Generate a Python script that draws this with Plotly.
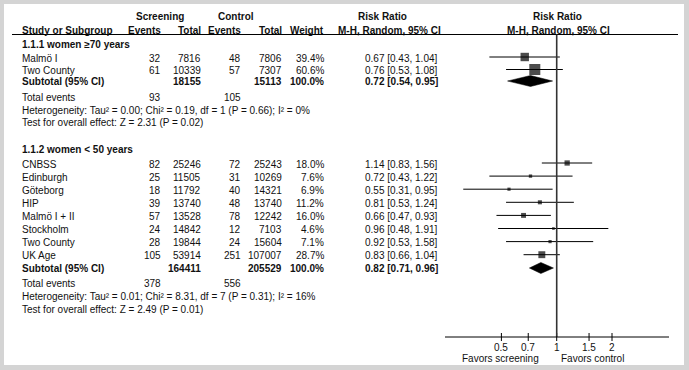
import math
import plotly.graph_objects as go

# ---------------- data ----------------
g1_title = "1.1.1 women \u226570 years"
g1_names = ["Malmö I", "Two County"]
g1_scr_ev = [32, 61]
g1_scr_tot = [7816, 10339]
g1_ctl_ev = [48, 57]
g1_ctl_tot = [7806, 7307]
g1_weight = [39.4, 60.6]
g1_rr = [0.67, 0.76]
g1_lo = [0.43, 0.53]
g1_hi = [1.04, 1.08]
g1_sub = {"scr_tot": 18155, "ctl_tot": 15113, "rr": 0.72, "lo": 0.54, "hi": 0.95,
          "scr_ev": 93, "ctl_ev": 105}
g1_het = "Heterogeneity: Tau\u00b2 = 0.00; Chi\u00b2 = 0.19, df = 1 (P = 0.66); I\u00b2 = 0%"
g1_test = "Test for overall effect: Z = 2.31 (P = 0.02)"

g2_title = "1.1.2 women < 50 years"
g2_names = ["CNBSS", "Edinburgh", "Göteborg", "HIP", "Malmö I + II", "Stockholm", "Two County", "UK Age"]
g2_scr_ev = [82, 25, 18, 39, 57, 24, 28, 105]
g2_scr_tot = [25246, 11505, 11792, 13740, 13528, 14842, 19844, 53914]
g2_ctl_ev = [72, 31, 40, 48, 78, 12, 24, 251]
g2_ctl_tot = [25243, 10269, 14321, 13740, 12242, 7103, 15604, 107007]
g2_weight = [18.0, 7.6, 6.9, 11.2, 16.0, 4.6, 7.1, 28.7]
g2_rr = [1.14, 0.72, 0.55, 0.81, 0.66, 0.96, 0.92, 0.83]
g2_lo = [0.83, 0.43, 0.31, 0.53, 0.47, 0.48, 0.53, 0.66]
g2_hi = [1.56, 1.22, 0.95, 1.24, 0.93, 1.91, 1.58, 1.04]
g2_sub = {"scr_tot": 164411, "ctl_tot": 205529, "rr": 0.82, "lo": 0.71, "hi": 0.96,
          "scr_ev": 378, "ctl_ev": 556}
g2_het = "Heterogeneity: Tau\u00b2 = 0.01; Chi\u00b2 = 8.31, df = 7 (P = 0.31); I\u00b2 = 16%"
g2_test = "Test for overall effect: Z = 2.49 (P = 0.01)"

tick_vals = [0.5, 0.7, 1, 1.5, 2]
tick_text = ["0.5", "0.7", "1", "1.5", "2"]
favors_left = "Favors screening"
favors_right = "Favors control"

# ---------------- layout constants ----------------
W, H = 689, 370
FONT = "Liberation Sans, Arial, sans-serif"
FS = 10
TXT = "#111111"

X_NAME = 21
X_SEV, X_STOT, X_CEV, X_CTOT, X_W = 162, 202, 242, 283, 325
X_RR = 401
AX_L, AX_R = 445, 669
PX_DEC = 183.7
X_ONE = 556.7
AX_Y = 337

groups = [
    dict(title=g1_title, names=g1_names, sev=g1_scr_ev, stot=g1_scr_tot, cev=g1_ctl_ev,
         ctot=g1_ctl_tot, w=g1_weight, rr=g1_rr, lo=g1_lo, hi=g1_hi, sub=g1_sub,
         het=g1_het, test=g1_test, y_title=44, y0=58, step=12.5, y_sub=81,
         y_tot=97, y_het=110, y_test=122),
    dict(title=g2_title, names=g2_names, sev=g2_scr_ev, stot=g2_scr_tot, cev=g2_ctl_ev,
         ctot=g2_ctl_tot, w=g2_weight, rr=g2_rr, lo=g2_lo, hi=g2_hi, sub=g2_sub,
         het=g2_het, test=g2_test, y_title=149, y0=164, step=13.1, y_sub=268,
         y_tot=283, y_het=296, y_test=309),
]

fig = go.Figure()
ann = []


def text(x, y, s, anchor="left", bold=False, size=FS, xref="paper"):
    if bold:
        s = "<b>" + s + "</b>"
    ann.append(dict(x=(x / W if xref == "paper" else x), y=y, xref=xref, yref="y", text=s,
                    showarrow=False, xanchor=anchor, yanchor="middle", borderpad=0,
                    font=dict(family=FONT, size=size, color=TXT)))


# header
text(160, 16, "Screening", "center", True)
text(236, 16, "Control", "center", True)
text(382, 16, "Risk Ratio", "center", True)
text(557, 16, "Risk Ratio", "center", True)
text(X_NAME, 30, "Study or Subgroup", "left", True)
text(X_SEV, 30, "Events", "right", True)
text(X_STOT, 30, "Total", "right", True)
text(X_CEV, 30, "Events", "right", True)
text(X_CTOT, 30, "Total", "right", True)
text(X_W, 30, "Weight", "right", True)
text(389, 30, "M-H, Random, 95% CI", "center", True)
text(558, 30, "M-H, Random, 95% CI", "center", True)

for g in groups:
    text(X_NAME, g["y_title"], g["title"], "left", True)
    ys = [g["y0"] + i * g["step"] for i in range(len(g["names"]))]
    for i, nm in enumerate(g["names"]):
        y = ys[i]
        text(X_NAME, y, nm)
        text(X_SEV, y, str(g["sev"][i]), "right")
        text(X_STOT, y, str(g["stot"][i]), "right")
        text(X_CEV, y, str(g["cev"][i]), "right")
        text(X_CTOT, y, str(g["ctot"][i]), "right")
        text(X_W, y, f"{g['w'][i]:.1f}%", "right")
        text(X_RR, y, f"{g['rr'][i]:.2f} [{g['lo'][i]:.2f}, {g['hi'][i]:.2f}]", "center")
        fig.add_trace(go.Scatter(x=[g["lo"][i], g["hi"][i]], y=[y - 1, y - 1], mode="lines",
                                 line=dict(color="black", width=1), xaxis="x", yaxis="y",
                                 hoverinfo="skip", showlegend=False))
    sizes = [0.565 * (w ** 0.7) + 1 for w in g["w"]]
    fig.add_trace(go.Scatter(x=g["rr"], y=[y - 1 for y in ys], mode="markers",
                             marker=dict(symbol="square", size=sizes, color="black",
                                         line=dict(width=0)),
                             xaxis="x", yaxis="y", hoverinfo="skip", showlegend=False))
    s = g["sub"]
    ysub = g["y_sub"]
    text(X_NAME, ysub, "Subtotal (95% CI)", "left", True)
    text(X_STOT, ysub, str(s["scr_tot"]), "right", True)
    text(X_CTOT, ysub, str(s["ctl_tot"]), "right", True)
    text(X_W, ysub, "100.0%", "right", True)
    text(X_RR, ysub, f"{s['rr']:.2f} [{s['lo']:.2f}, {s['hi']:.2f}]", "center", True)
    dy = 5.5
    fig.add_trace(go.Scatter(x=[s["lo"], s["rr"], s["hi"], s["rr"], s["lo"]],
                             y=[ysub, ysub - dy, ysub, ysub + dy, ysub],
                             mode="lines", fill="toself", fillcolor="black",
                             line=dict(color="black", width=0.5), xaxis="x", yaxis="y",
                             hoverinfo="skip", showlegend=False))
    text(X_NAME, g["y_tot"], "Total events")
    text(X_SEV, g["y_tot"], str(s["scr_ev"]), "right")
    text(X_CEV, g["y_tot"], str(s["ctl_ev"]), "right")
    text(X_NAME, g["y_het"], g["het"])
    text(X_NAME, g["y_test"], g["test"])

# axis ticks (crossing the axis line) and their labels
for tv, tt in zip(tick_vals, tick_text):
    fig.add_trace(go.Scatter(x=[tv, tv], y=[AX_Y - 4, AX_Y + 4], mode="lines",
                             line=dict(color="black", width=1), xaxis="x", yaxis="y",
                             hoverinfo="skip", showlegend=False))
    text(math.log10(tv), 347.5, tt, "center", xref="x")

text(500, 358.5, favors_left, "center")
text(592, 358.5, favors_right, "center")

lo_log = -(X_ONE - AX_L) / PX_DEC
hi_log = (AX_R - X_ONE) / PX_DEC

shapes = [
    dict(type="rect", xref="paper", yref="paper", x0=4 / W, x1=684 / W, y0=1 - 4 / H,
         y1=1 - 365 / H, fillcolor="white", line=dict(width=0), layer="below"),
    dict(type="line", xref="paper", yref="y", x0=12 / W, x1=678 / W, y0=34.5, y1=34.5,
         line=dict(color="black", width=1.2)),
    dict(type="line", xref="x", yref="y", x0=1, x1=1, y0=34.5, y1=AX_Y,
         line=dict(color="#333333", width=1.6)),
    dict(type="line", xref="paper", yref="y", x0=AX_L / W, x1=AX_R / W, y0=AX_Y, y1=AX_Y,
         line=dict(color="black", width=1)),
]

fig.update_layout(
    width=W, height=H,
    margin=dict(l=0, r=0, t=0, b=0),
    paper_bgcolor="#d4d4d4",
    plot_bgcolor="rgba(0,0,0,0)",
    showlegend=False,
    xaxis=dict(type="log", domain=[AX_L / W, AX_R / W], range=[lo_log, hi_log],
               visible=False),
    yaxis=dict(range=[H, 0], domain=[0, 1], visible=False),
    annotations=ann,
    shapes=shapes,
)

fig.write_html("out.html")
